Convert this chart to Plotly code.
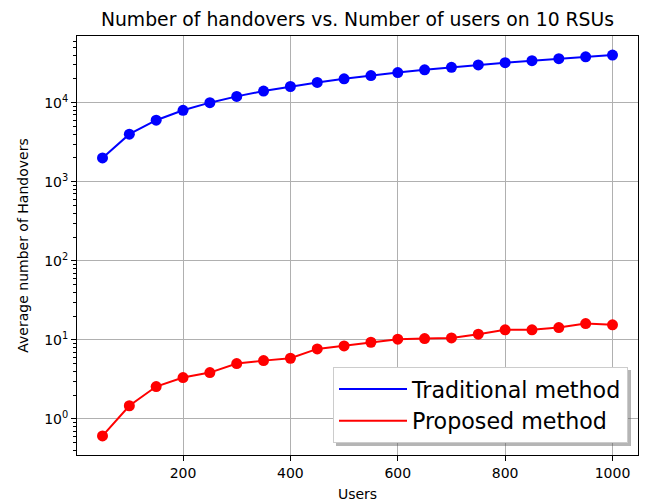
import numpy as np
import plotly.graph_objects as go

users = [50, 100, 150, 200, 250, 300, 350, 400, 450, 500,
         550, 600, 650, 700, 750, 800, 850, 900, 950, 1000]
traditional = [2000, 4000, 6000, 8000, 10000, 12000, 14000, 16000, 18000, 20000,
               22000, 24000, 26000, 28000, 30000, 32000, 34000, 36000, 38000, 40000]
proposed = [0.61, 1.47, 2.57, 3.34, 3.86, 5.02, 5.47, 5.86, 7.69, 8.40,
            9.34, 10.2, 10.4, 10.6, 11.8, 13.4, 13.4, 14.3, 16.1, 15.5]
x_ticks = [200, 400, 600, 800, 1000]
y_tick_exps = [0, 1, 2, 3, 4]
title_text = "Number of handovers vs. Number of users on 10 RSUs"

FONT = "DejaVu Sans"
W, H = 649, 502
L, R, T, B = 77, 11, 36, 47
pw, ph = W - L - R, H - T - B

fig = go.Figure()
for name, ys, col in [("Traditional method", traditional, "#0000ff"),
                      ("Proposed method", proposed, "#ff0000")]:
    fig.add_trace(go.Scatter(x=users, y=ys, mode="lines+markers", name=name,
                             line=dict(color=col, width=2),
                             marker=dict(color=col, size=11),
                             showlegend=False))
for name, col in [("Traditional method", "#0000ff"), ("Proposed method", "#ff0000")]:
    fig.add_trace(go.Scatter(x=[None], y=[None], mode="lines", name=name,
                             line=dict(color=col, width=2), showlegend=True))

xspan = max(users) - min(users)
xr = [min(users) - 0.05 * xspan, max(users) + 0.05 * xspan]
lo = np.log10(min(proposed)); hi = np.log10(max(traditional))
ys = hi - lo
yr = [lo - 0.05 * ys, hi + 0.05 * ys]

y_tickvals = [10 ** e for e in y_tick_exps]
y_ticktext = ["10<sup>%d</sup>" % e for e in y_tick_exps]
minor_vals = [m * 10 ** e for e in range(-1, 5) for m in range(2, 10)]

def px2paper(px, py):
    return (px - L) / pw, (H - B - py) / ph

# legend shadow
sx0, sy0 = px2paper(336, 446)
sx1, sy1 = px2paper(631, 370)
fig.add_shape(type="rect", xref="paper", yref="paper", x0=sx0, y0=sy0, x1=sx1, y1=sy1,
              line=dict(width=0), fillcolor="rgba(90,90,90,0.45)", layer="above")

lx, ly = px2paper(628, 443)
fig.update_layout(
    width=W, height=H,
    margin=dict(l=L, r=R, t=T, b=B, autoexpand=False),
    paper_bgcolor="white", plot_bgcolor="white",
    font=dict(family=FONT, color="black", size=14),
    title=dict(text=title_text, x=(L + pw / 2) / W, xanchor="center",
               y=1 - 19.5 / H, yanchor="middle", font=dict(size=18.8, family=FONT)),
    showlegend=True,
    legend=dict(x=lx, y=ly, xanchor="right", yanchor="bottom",
                bgcolor="white", bordercolor="#cccccc", borderwidth=1,
                font=dict(size=22.2, family=FONT), traceorder="normal",
                itemwidth=68, tracegroupgap=0),
    xaxis=dict(range=xr, tickvals=x_ticks, ticks="outside", ticklen=5, tickwidth=1,
               tickcolor="black", showline=True, linecolor="black", linewidth=1,
               mirror=True, showgrid=True, gridcolor="#b0b0b0", gridwidth=1,
               zeroline=False, tickfont=dict(size=14), automargin=False,
               title=dict(text="Users", font=dict(size=14), standoff=10)),
    yaxis=dict(type="log", range=yr, tickvals=y_tickvals, ticktext=y_ticktext,
               ticks="outside", ticklen=5, tickwidth=1, tickcolor="black",
               showline=True, linecolor="black", linewidth=1, mirror=True,
               showgrid=True, gridcolor="#b0b0b0", gridwidth=1, zeroline=False,
               tickfont=dict(size=14), automargin=False,
               minor=dict(ticks="outside", ticklen=3, tickcolor="black",
                          tickvals=minor_vals, showgrid=False),
               title=dict(text="Average number of Handovers", font=dict(size=14),
                          standoff=12)),
)

fig.write_html("out.html")
